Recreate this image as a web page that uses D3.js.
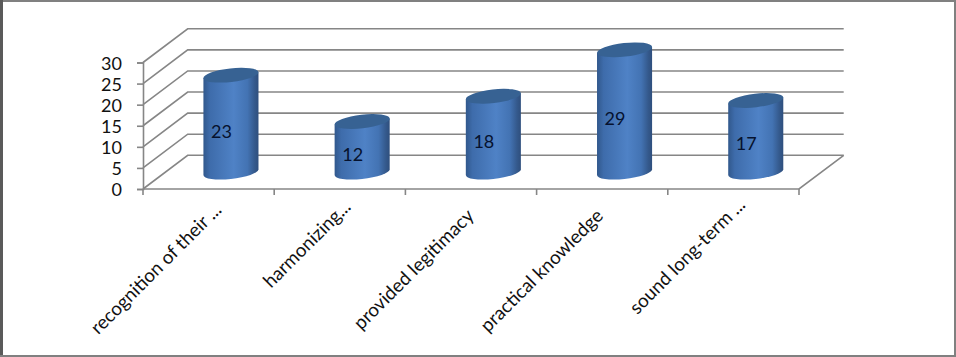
<!DOCTYPE html>
<html><head><meta charset="utf-8">
<script src="https://cdn.jsdelivr.net/npm/d3@7/dist/d3.min.js"></script>
<style>html,body{margin:0;padding:0;background:#fff;overflow:hidden}svg{display:block}
text{font-family:Lato,"Open Sans",sans-serif}</style></head><body>
<svg id="c" width="956" height="357"></svg>
<script>
const categories = ["recognition of their ...", "harmonizing...", "provided legitimacy", "practical knowledge", "sound long-term ..."];
const values = [23, 12, 18, 29, 17];
const yTicks = [0, 5, 10, 15, 20, 25, 30];

const svg = d3.select("#c");
const W = 956, H = 357;
const grey = "#868686";

// frame
svg.append("rect").attr("width", W).attr("height", H).attr("fill", "#fff");
svg.append("rect").attr("x", 0).attr("y", 0).attr("width", W).attr("height", 2).attr("fill", "#808080");
svg.append("rect").attr("x", 0).attr("y", 0).attr("width", 3).attr("height", H).attr("fill", "#5a5a5a");
svg.append("rect").attr("x", W - 2).attr("y", 0).attr("width", 2).attr("height", H).attr("fill", "#808080");
svg.append("rect").attr("x", 0).attr("y", H - 2).attr("width", W).attr("height", 2).attr("fill", "#808080");

// scales
const x = d3.scaleBand().domain(categories).range([143, 799]);
const y = d3.scaleLinear().domain([0, 30]).range([189, 62.5]);
const depthX = d3.scaleLinear().domain([0, 1]).range([0, 44.7]);
const depthY = d3.scaleLinear().domain([0, 1]).range([0, -33.7]);

const walls = svg.append("g").attr("fill", "none").attr("stroke", grey).attr("stroke-width", 1.6);
const xL = x.range()[0], xR = x.range()[1];
const line = d3.line();
yTicks.forEach(t => {
  const yy = y(t);
  walls.append("path").attr("d", line([[xL, yy], [xL + depthX(1), yy + depthY(1)], [xR + depthX(1), yy + depthY(1)]]));
});
walls.append("path").attr("d", line([[xL, y(0)], [xR, y(0)], [xR + depthX(1), y(0) + depthY(1)]]));

// axes
const yAxis = svg.append("g").attr("transform", `translate(${xL},0)`)
  .call(d3.axisLeft(y).tickValues(yTicks).tickSize(6).tickPadding(15));
yAxis.selectAll("path,line").attr("stroke", grey).attr("stroke-width", 1.6);
yAxis.selectAll("text").attr("font-size", 18).attr("fill", "#111").attr("y", 1.2);

const edges = categories.map(c => x(c)).concat([xR]);
svg.append("g").selectAll("path").data(edges).join("path")
  .attr("d", e => line([[e, y(0)], [e, y(0) + 6]]))
  .attr("stroke", grey).attr("stroke-width", 1.6);

const xAxis = svg.append("g").attr("transform", `translate(0,${y(0)})`)
  .call(d3.axisBottom(x).tickSize(0).tickPadding(0));
xAxis.select("path").remove();
const labelDx = [14, 12, 4, 2, 13];
const labelDy = [22, 19, 28, 28, 17];
xAxis.selectAll("text")
  .attr("font-size", 18.8).attr("fill", "#111")
  .attr("text-anchor", "end")
  .attr("dy", 0)
  .attr("y", 0)
  .attr("transform", (d, i) => `translate(${labelDx[i]},${labelDy[i]}) rotate(-45)`);

// cylinders
const defs = svg.append("defs");
const g = defs.append("linearGradient").attr("id", "cyl").attr("x1", 0).attr("x2", 1).attr("y1", 0).attr("y2", 0);
[[0, "#31588c"], [0.12, "#3e6cab"], [0.55, "#4f82c6"], [0.8, "#4373b3"], [0.93, "#34598c"], [1, "#2f4f7d"]]
  .forEach(s => g.append("stop").attr("offset", s[0]).attr("stop-color", s[1]));

const rx = 27.7, ry = 6.8, phi = -6.5 * Math.PI / 180;
const tE = Math.atan(-(ry / rx) * Math.tan(phi));
const ex = rx * Math.cos(tE) * Math.cos(phi) - ry * Math.sin(tE) * Math.sin(phi);
const ey = rx * Math.cos(tE) * Math.sin(phi) + ry * Math.sin(tE) * Math.cos(phi);
const deg = phi * 180 / Math.PI;
const bars = svg.append("g").selectAll("g").data(categories.map((c, i) => ({ c, v: values[i] }))).join("g");
const cx = d => x(d.c) + x.bandwidth() / 2 + depthX(0.5);
const baseY = () => y(0) + depthY(0.5);
const topY = d => y(d.v) + depthY(0.5);
bars.append("path").attr("fill", "url(#cyl)")
  .attr("d", d => {
    const X = cx(d), b = baseY(), t = topY(d);
    return `M${X - ex},${t - ey}L${X + ex},${t + ey}L${X + ex},${b + ey}` +
      `A${rx},${ry} ${deg} 0 1 ${X - ex},${b - ey}Z`;
  });
bars.append("ellipse").attr("fill", "#376293")
  .attr("rx", rx).attr("ry", ry)
  .attr("transform", d => `translate(${cx(d)},${topY(d)}) rotate(${deg})`);
bars.append("text").text(d => d.v)
  .attr("x", d => cx(d) - 9.5)
  .attr("y", d => (baseY() + topY(d)) / 2 + 14)
  .attr("text-anchor", "middle")
  .attr("font-size", 18).attr("fill", "#06122e");
</script></body></html>
